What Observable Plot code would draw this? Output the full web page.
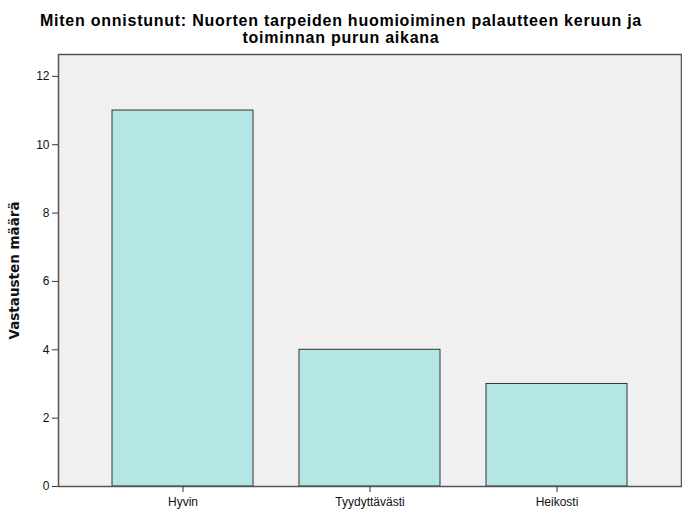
<!DOCTYPE html>
<html>
<head>
<meta charset="utf-8">
<script src="https://cdn.jsdelivr.net/npm/d3@7"></script>
<script src="https://cdn.jsdelivr.net/npm/@observablehq/plot@0.6"></script>
<style>
  html, body { margin: 0; padding: 0; background: #fff; }
  #title {
    width: 682px; box-sizing: border-box;
    padding-top: 12px; height: 45px;
    font: bold 16px "Liberation Sans", Arial, sans-serif;
    letter-spacing: 0.75px;
    line-height: 17px; text-align: center; color: #000;
  }
  svg { display: block; }
</style>
</head>
<body>
<div id="title">Miten onnistunut: Nuorten tarpeiden huomioiminen palautteen keruun ja<br>toiminnan purun aikana</div>
<div id="chart"></div>
<script>
const categories = ["Hyvin", "Tyydyttävästi", "Heikosti"];
const counts = [11, 4, 3];
const yTicks = [0, 2, 4, 6, 8, 10, 12];
const yLabel = "Vastausten määrä";

const data = categories.map((c, i) => ({category: c, count: counts[i]}));

const chart = Plot.plot({
  width: 682,
  height: 466,
  marginLeft: 58,
  marginRight: 1,
  marginTop: 9,
  marginBottom: 25,
  style: {fontFamily: "'Liberation Sans', Arial, sans-serif", fontSize: "12px", color: "#111", background: "#fff"},
  x: {domain: categories, paddingInner: 0.248, paddingOuter: 0.285, label: null},
  y: {domain: [0, 12.64], label: null},
  marks: [
    Plot.frame({fill: "#f0f0f0", stroke: "none"}),
    Plot.barY(data, {x: "category", y: "count", fill: "#b4e6e6", stroke: "#333", strokeWidth: 1, inset: 0}),
    Plot.frame({stroke: "#555", strokeWidth: 1.5}),
    Plot.axisY({ticks: yTicks, tickSize: 6, tickPadding: 3, label: null, fontSize: 12, stroke: "#333"}),
    Plot.axisX({tickSize: 6, tickPadding: 5, label: null, fontSize: 12, stroke: "#333"}),
    Plot.text([yLabel], {frameAnchor: "left", textAnchor: "middle", rotate: -90, dx: -43.5, fontWeight: "bold", fontSize: 13.5, fontFamily: "'DejaVu Sans', sans-serif", fill: "#111"})
  ]
});
document.getElementById("chart").appendChild(chart);
</script>
</body>
</html>
